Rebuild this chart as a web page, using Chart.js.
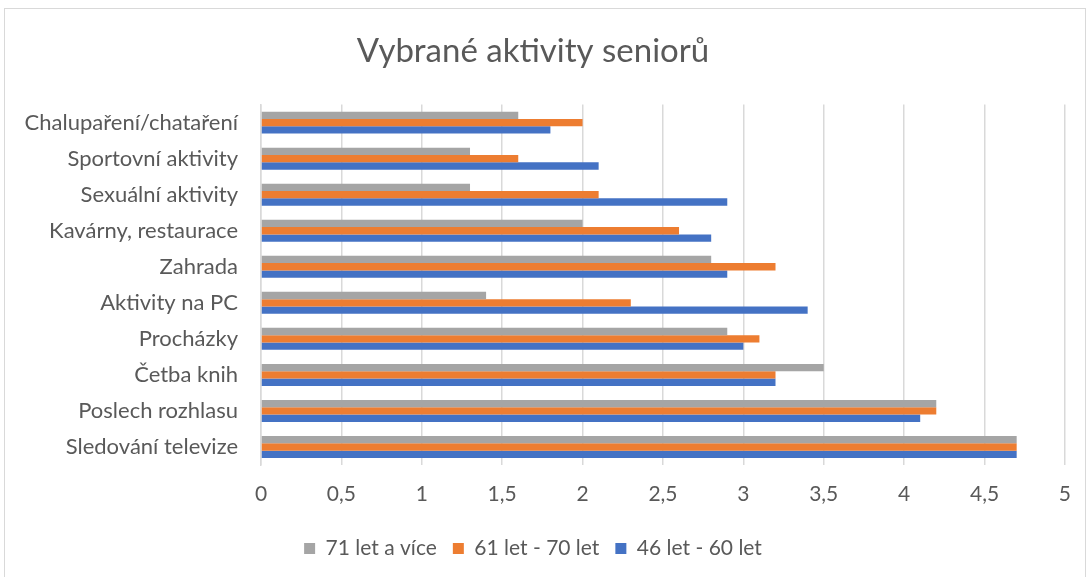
<!DOCTYPE html>
<html>
<head>
<meta charset="utf-8">
<script src="https://cdn.jsdelivr.net/npm/chart.js@4.4.0/dist/chart.umd.min.js"></script>
<style>
  html, body { margin: 0; padding: 0; background: #ffffff; }
  #wrap { position: relative; width: 1088px; height: 577px; overflow: hidden; }
  #frame { position: absolute; left: 4px; top: 8px; width: 1082px; height: 580px; border: 1px solid #d9d9d9; box-sizing: border-box; pointer-events: none; }
  canvas { position: absolute; left: 0; top: 0; }
</style>
</head>
<body>
<div id="wrap">
  <canvas id="c" width="1088" height="577"></canvas>
  <div id="frame"></div>
</div>
<script>
const categories = [
  'Chalupaření/chataření',
  'Sportovní aktivity',
  'Sexuální aktivity',
  'Kavárny, restaurace',
  'Zahrada',
  'Aktivity na PC',
  'Procházky',
  'Četba knih',
  'Poslech rozhlasu',
  'Sledování televize'
];
const seriesNames = ['71 let a více', '61 let - 70 let', '46 let - 60 let'];
const age71plus = [1.6, 1.3, 1.3, 2.0, 2.8, 1.4, 2.9, 3.5, 4.2, 4.7];
const age61to70 = [2.0, 1.6, 2.1, 2.6, 3.2, 2.3, 3.1, 3.2, 4.2, 4.7];
const age46to60 = [1.8, 2.1, 2.9, 2.8, 2.9, 3.4, 3.0, 3.2, 4.1, 4.7];
const xTickLabels = ['0', '0,5', '1', '1,5', '2', '2,5', '3', '3,5', '4', '4,5', '5'];

const FONT = 'Lato, "Open Sans", "Liberation Sans", sans-serif';
const TEXT = '#595959';

new Chart(document.getElementById('c'), {
  type: 'bar',
  data: {
    labels: categories,
    datasets: [
      { label: seriesNames[0], data: age71plus, backgroundColor: '#A5A5A5' },
      { label: seriesNames[1], data: age61to70, backgroundColor: '#ED7D31' },
      { label: seriesNames[2], data: age46to60, backgroundColor: '#4472C4' }
    ]
  },
  options: {
    responsive: false,
    animation: false,
    indexAxis: 'y',
    devicePixelRatio: 1,
    datasets: { bar: { categoryPercentage: 0.61, barPercentage: 1.0, borderWidth: 0 } },
    layout: { padding: { left: 0, right: 22, top: 16, bottom: 8 } },
    plugins: {
      title: {
        display: true,
        text: 'Vybrané aktivity seniorů',
        color: TEXT,
        font: { family: FONT, size: 33, weight: 'normal' },
        padding: { top: 16, bottom: 33 }
      },
      legend: {
        position: 'bottom',
        labels: {
          color: TEXT,
          font: { family: FONT, size: 21 },
          boxWidth: 11,
          boxHeight: 11,
          padding: 16
        }
      },
      tooltip: { enabled: false }
    },
    scales: {
      x: {
        min: 0,
        max: 5,
        ticks: {
          stepSize: 0.5,
          color: TEXT,
          font: { family: FONT, size: 21 },
          padding: 17,
          callback: function(v, i) { return xTickLabels[i]; }
        },
        grid: { color: '#d9d9d9', lineWidth: 1.5, drawTicks: false },
        border: { display: false },
        afterFit: function(s) { s.height = 57; }
      },
      y: {
        ticks: {
          color: TEXT,
          font: { family: FONT, size: 22 },
          padding: 23
        },
        grid: { display: false, drawTicks: false },
        border: { display: true, color: '#d9d9d9', width: 1.5 },
        afterFit: function(s) { s.width = 261; }
      }
    }
  }
});
</script>
</body>
</html>
